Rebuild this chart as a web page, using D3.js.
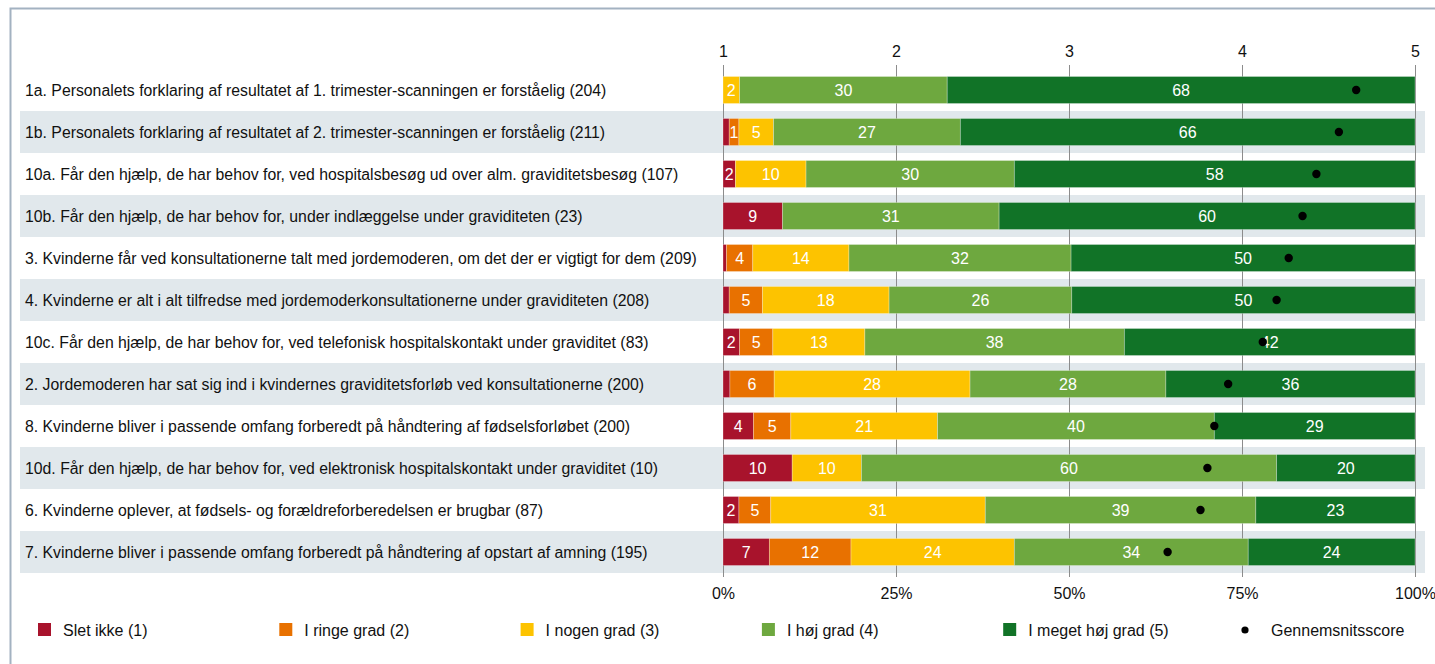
<!DOCTYPE html>
<html>
<head>
<meta charset="utf-8">
<script src="https://cdn.jsdelivr.net/npm/d3@7"></script>
<style>
  html, body { margin: 0; padding: 0; background: #fff; }
  svg { display: block; font-family: "Liberation Sans", Arial, sans-serif; }
</style>
</head>
<body>
<svg id="chart" width="1435" height="664"></svg>
<script>
const categories = [
  "1a. Personalets forklaring af resultatet af 1. trimester-scanningen er forståelig (204)",
  "1b. Personalets forklaring af resultatet af 2. trimester-scanningen er forståelig (211)",
  "10a. Får den hjælp, de har behov for, ved hospitalsbesøg ud over alm. graviditetsbesøg (107)",
  "10b. Får den hjælp, de har behov for, under indlæggelse under graviditeten (23)",
  "3. Kvinderne får ved konsultationerne talt med jordemoderen, om det der er vigtigt for dem (209)",
  "4. Kvinderne er alt i alt tilfredse med jordemoderkonsultationerne under graviditeten (208)",
  "10c. Får den hjælp, de har behov for, ved telefonisk hospitalskontakt under graviditet (83)",
  "2. Jordemoderen har sat sig ind i kvindernes graviditetsforløb ved konsultationerne (200)",
  "8. Kvinderne bliver i passende omfang forberedt på håndtering af fødselsforløbet (200)",
  "10d. Får den hjælp, de har behov for, ved elektronisk hospitalskontakt under graviditet (10)",
  "6. Kvinderne oplever, at fødsels- og forældreforberedelsen er brugbar (87)",
  "7. Kvinderne bliver i passende omfang forberedt på håndtering af opstart af amning (195)"
];

const seriesNames = ["Slet ikke (1)", "I ringe grad (2)", "I nogen grad (3)", "I høj grad (4)", "I meget høj grad (5)"];
const meanName = "Gennemsnitsscore";

// Percentages per answer category
const sletIkke       = [0,    0.9,  1.8,  8.6,  0.5,  0.9,  2.4,  1.0,  4.4,  10, 2.3,  6.7];
const iRingeGrad     = [0,    1.4,  0,    0,    3.8,  4.8,  4.8,  6.4,  5.4,  0,  4.6,  11.8];
const iNogenGrad     = [2.4,  5.0,  10.2, 0,    13.9, 18.3, 13.3, 28.3, 21.2, 10, 31.0, 23.6];
const iHoejGrad      = [30.0, 27.0, 30.1, 31.3, 32.1, 26.4, 37.5, 28.3, 40.0, 60, 39.1, 33.8];
const iMegetHoejGrad = [67.6, 65.7, 57.9, 60.1, 49.7, 49.6, 42.0, 36.0, 29.0, 20, 23.0, 24.1];

// Mean score (1-5)
const means = [4.66, 4.56, 4.43, 4.35, 4.27, 4.20, 4.12, 3.92, 3.84, 3.80, 3.76, 3.57];

const pctTicks = [0, 25, 50, 75, 100];
const scoreTicks = [1, 2, 3, 4, 5];

const colors = ["#a8132c", "#e87100", "#fdc300", "#6ea83f", "#117327"];
const series = [sletIkke, iRingeGrad, iNogenGrad, iHoejGrad, iMegetHoejGrad];

const svg = d3.select("#chart");
const txt = "#111111";

// frame
svg.append("path")
  .attr("d", "M10.5,664 L10.5,8.5 L1435,8.5")
  .attr("fill", "none")
  .attr("stroke", "#a3b2c1")
  .attr("stroke-width", 2);

const x = d3.scaleLinear().domain([0, 100]).range([723, 1415]);
const xScore = d3.scaleLinear().domain([1, 5]).range([723, 1415]);
const y = d3.scaleBand().domain(categories).range([69, 573]).padding(0);
const barH = 27;

// row bands
svg.append("g").selectAll("rect")
  .data(categories.filter((d, i) => i % 2 === 1))
  .join("rect")
  .attr("x", 20)
  .attr("width", 1425 - 20)
  .attr("y", d => y(d))
  .attr("height", y.bandwidth())
  .attr("fill", "#e1e8ec");

// gridlines
svg.append("g").selectAll("line")
  .data(pctTicks)
  .join("line")
  .attr("x1", d => x(d) + 0.5).attr("x2", d => x(d) + 0.5)
  .attr("y1", 65).attr("y2", 577)
  .attr("stroke", "#8c8c8c")
  .attr("stroke-width", 1);

// category labels
svg.append("g").selectAll("text")
  .data(categories)
  .join("text")
  .attr("x", 25)
  .attr("y", d => y(d) + y.bandwidth() / 2 + 5.5)
  .attr("font-size", 15.8)
  .attr("fill", txt)
  .text(d => d);

// stacked data
const rows = categories.map((c, i) => {
  let acc = 0;
  return series.map((s, k) => {
    const v = s[i];
    const seg = { cat: c, k, v, x0: acc, x1: acc + v };
    acc += v;
    return seg;
  });
});
const segs = rows.flat().filter(d => d.v > 0);

svg.append("g").selectAll("rect")
  .data(segs)
  .join("rect")
  .attr("x", d => x(d.x0))
  .attr("width", d => x(d.x1) - x(d.x0))
  .attr("y", d => y(d.cat) + (y.bandwidth() - barH) / 2)
  .attr("height", barH)
  .attr("fill", d => colors[d.k])
  .attr("stroke", "rgba(255,255,255,0.35)")
  .attr("stroke-width", 0.8);

svg.append("g").selectAll("text")
  .data(segs.filter(d => d.v >= 1.2))
  .join("text")
  .attr("x", d => (x(d.x0) + x(d.x1)) / 2)
  .attr("y", d => y(d.cat) + y.bandwidth() / 2 + 6)
  .attr("text-anchor", "middle")
  .attr("font-size", 16)
  .attr("fill", "#ffffff")
  .text(d => Math.round(d.v));

// mean dots
svg.append("g").selectAll("circle")
  .data(categories)
  .join("circle")
  .attr("cx", (d, i) => xScore(means[i]))
  .attr("cy", d => y(d) + y.bandwidth() / 2)
  .attr("r", 4.2)
  .attr("fill", "#000");

// top axis (score)
const topAxis = svg.append("g")
  .attr("transform", "translate(0,57)")
  .call(d3.axisTop(xScore).tickValues(scoreTicks).tickSize(0).tickPadding(0).tickFormat(d3.format("d")));
topAxis.select(".domain").remove();
topAxis.selectAll("text").attr("font-size", 16).attr("fill", txt).attr("font-family", "Liberation Sans, Arial, sans-serif");

// bottom axis (percent)
const botAxis = svg.append("g")
  .attr("transform", "translate(0,588)")
  .call(d3.axisBottom(x).tickValues(pctTicks).tickSize(0).tickPadding(0).tickFormat(d => d + "%"));
botAxis.select(".domain").remove();
botAxis.selectAll("text").attr("font-size", 16).attr("fill", txt).attr("font-family", "Liberation Sans, Arial, sans-serif");

// legend
const legend = svg.append("g");
const legItems = seriesNames.map((n, i) => ({ name: n, color: colors[i], type: "rect" }))
  .concat([{ name: meanName, color: "#000", type: "dot" }]);
const lg = legend.selectAll("g")
  .data(legItems)
  .join("g")
  .attr("transform", (d, i) => `translate(${38 + i * 241.3},623)`);
lg.filter(d => d.type === "rect").append("rect")
  .attr("width", 13).attr("height", 13)
  .attr("fill", d => d.color);
lg.filter(d => d.type === "dot").append("circle")
  .attr("cx", 0.5).attr("cy", 7).attr("r", 3.6)
  .attr("fill", "#000");
lg.append("text")
  .attr("x", d => d.type === "dot" ? 26.5 : 25)
  .attr("y", 12.8)
  .attr("font-size", 16)
  .attr("fill", txt)
  .text(d => d.name);
</script>
</body>
</html>
